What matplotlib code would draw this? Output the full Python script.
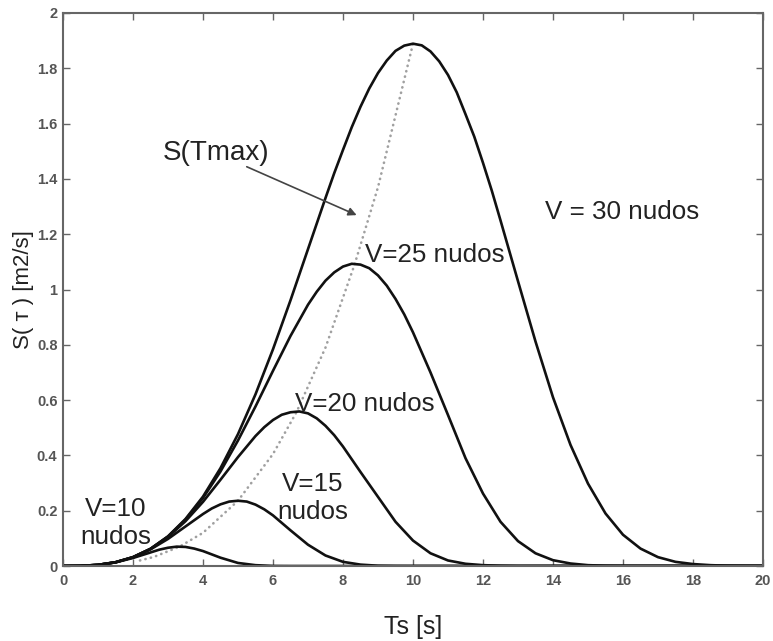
import matplotlib.pyplot as plt

# espectros S(T): periodo (s) y S (m2/s) por velocidad de viento
t_v10 = [0, 0.5, 1, 1.5, 2, 2.5, 2.75, 3, 3.25, 3.5, 3.75, 4, 4.5, 5, 5.5, 6, 6.5, 20]
s_v10 = [0, 0.0005, 0.004, 0.013, 0.029, 0.049, 0.059, 0.066, 0.070, 0.069,
         0.063, 0.054, 0.030, 0.011, 0.003, 0.0003, 0, 0]

t_v15 = [0, 0.5, 1, 1.5, 2, 2.5, 3, 3.5, 4, 4.25, 4.5, 4.75, 5, 5.25, 5.5, 5.75,
         6, 6.5, 7, 7.5, 8, 8.5, 9, 9.5, 10, 20]
s_v15 = [0, 0.0005, 0.004, 0.0134, 0.031, 0.060, 0.098, 0.143, 0.188, 0.208,
         0.223, 0.233, 0.236, 0.233, 0.222, 0.205, 0.183, 0.129, 0.077, 0.038,
         0.015, 0.005, 0.001, 0.0002, 0, 0]

t_v20 = [0, 0.5, 1, 1.5, 2, 2.5, 3, 3.5, 4, 4.5, 5, 5.5, 5.75, 6, 6.25, 6.5,
         6.75, 7, 7.25, 7.5, 7.75, 8, 8.5, 9, 9.5, 10, 10.5, 11, 11.5, 12, 12.5,
         13, 20]
s_v20 = [0, 0.0005, 0.004, 0.0135, 0.032, 0.062, 0.105, 0.162, 0.232, 0.312,
         0.394, 0.470, 0.502, 0.528, 0.547, 0.556, 0.559, 0.552, 0.534, 0.507,
         0.473, 0.432, 0.340, 0.250, 0.160, 0.092, 0.046, 0.020, 0.008, 0.003,
         0.001, 0, 0]

t_v25 = [0, 0.5, 1, 1.5, 2, 2.5, 3, 3.5, 4, 4.5, 5, 5.5, 6, 6.5, 7, 7.25, 7.5,
         7.75, 8, 8.25, 8.5, 8.75, 9, 9.25, 9.5, 9.75, 10, 10.5, 11, 11.5, 12,
         12.5, 13, 13.5, 14, 14.5, 15, 15.5, 16, 16.5, 20]
s_v25 = [0, 0.0005, 0.004, 0.0135, 0.032, 0.062, 0.107, 0.168, 0.246, 0.342,
         0.454, 0.577, 0.706, 0.832, 0.945, 0.992, 1.032, 1.062, 1.083, 1.093,
         1.090, 1.077, 1.051, 1.014, 0.966, 0.910, 0.845, 0.700, 0.546, 0.390,
         0.262, 0.160, 0.090, 0.046, 0.021, 0.009, 0.003, 0.001, 0.0003, 0, 0]

t_v30 = [0, 0.5, 1, 1.5, 2, 2.5, 3, 3.5, 4, 4.5, 5, 5.5, 6, 6.5, 7, 7.5, 7.75,
         8, 8.25, 8.5, 8.75, 9, 9.25, 9.5, 9.75, 10, 10.25, 10.5, 10.75, 11,
         11.25, 11.5, 11.75, 12, 12.25, 12.5, 13, 13.5, 14, 14.5, 15, 15.5, 16,
         16.5, 17, 17.5, 18, 18.5, 19, 19.5, 20]
s_v30 = [0, 0.0005, 0.004, 0.0135, 0.032, 0.062, 0.107, 0.170, 0.251, 0.354,
         0.477, 0.621, 0.784, 0.961, 1.146, 1.331, 1.421, 1.505, 1.587, 1.661,
         1.727, 1.783, 1.828, 1.863, 1.882, 1.889, 1.883, 1.861, 1.825, 1.776,
         1.713, 1.634, 1.553, 1.458, 1.358, 1.250, 1.030, 0.812, 0.610, 0.438,
         0.298, 0.190, 0.113, 0.063, 0.032, 0.015, 0.007, 0.003, 0.001, 0.0003, 0]

# lugar de los maximos S(Tmax)
t_max = [2.2, 2.6, 3.33, 4, 5, 6, 6.67, 7.5, 8.33, 9, 10]
s_max = [0.02, 0.033, 0.07, 0.12, 0.236, 0.405, 0.556, 0.79, 1.09, 1.37, 1.889]

xticks = [0, 2, 4, 6, 8, 10, 12, 14, 16, 18, 20]
yticks = [0, 0.2, 0.4, 0.6, 0.8, 1, 1.2, 1.4, 1.6, 1.8, 2]
ytick_labels = ['0', '0.2', '0.4', '0.6', '0.8', '1', '1.2', '1.4', '1.6', '1.8', '2']

plt.rcParams['font.family'] = ['Liberation Sans', 'DejaVu Sans']

fig = plt.figure(figsize=(7.73, 6.41), dpi=100)
ax = fig.add_axes([63 / 773, 75 / 641, 700 / 773, 553 / 641])

ax.plot(t_max, s_max, color='#a0a0a0', linestyle=(0, (0.1, 2.0)),
        linewidth=1.9, dash_capstyle='round')
for t, s in [(t_v10, s_v10), (t_v15, s_v15), (t_v20, s_v20),
             (t_v25, s_v25), (t_v30, s_v30)]:
    ax.plot(t, s, color='#111111', linewidth=1.9)

ax.set_xlim(0, 20)
ax.set_ylim(0, 2)
ax.set_xticks(xticks)
ax.set_xticklabels([str(t) for t in xticks])
ax.set_yticks(yticks)
ax.set_yticklabels(ytick_labels)
ax.tick_params(direction='in', length=5, width=1, colors='#666666',
               top=True, right=True, labelsize=10.5, labelcolor='#555555')
ax.tick_params(axis='x', pad=6)
ax.tick_params(axis='y', pad=4)
for lab in ax.get_xticklabels() + ax.get_yticklabels():
    lab.set_fontweight('bold')
for sp in ax.spines.values():
    sp.set_color('#666666')
    sp.set_linewidth(1.5)

ax.set_xlabel('Ts [s]', fontsize=18, color='#222222', labelpad=19)
ax.set_ylabel('S( \u1d1b ) [m2/s]', fontsize=16, color='#222222', labelpad=2)

txt = dict(color='#222222', fontsize=18.7)
ax.text(2.86, 1.494, 'S(Tmax)', va='center', ha='left', color='#222222', fontsize=20)
ax.text(13.77, 1.28, 'V = 30 nudos', va='center', ha='left', **txt)
ax.text(8.63, 1.125, 'V=25 nudos', va='center', ha='left', **txt)
ax.text(6.63, 0.585, 'V=20 nudos', va='center', ha='left', **txt)
ax.text(7.14, 0.247, 'V=15\nnudos', va='center', ha='center', linespacing=1.2, **txt)
ax.text(1.51, 0.155, 'V=10\nnudos', va='center', ha='center', linespacing=1.2, **txt)

ax.annotate('', xy=(8.39, 1.269), xytext=(5.25, 1.444),
            arrowprops=dict(arrowstyle='-|>', color='#444444', lw=1.2,
                            mutation_scale=12, shrinkA=0, shrinkB=0))

fig.savefig('out.png', dpi=100)
